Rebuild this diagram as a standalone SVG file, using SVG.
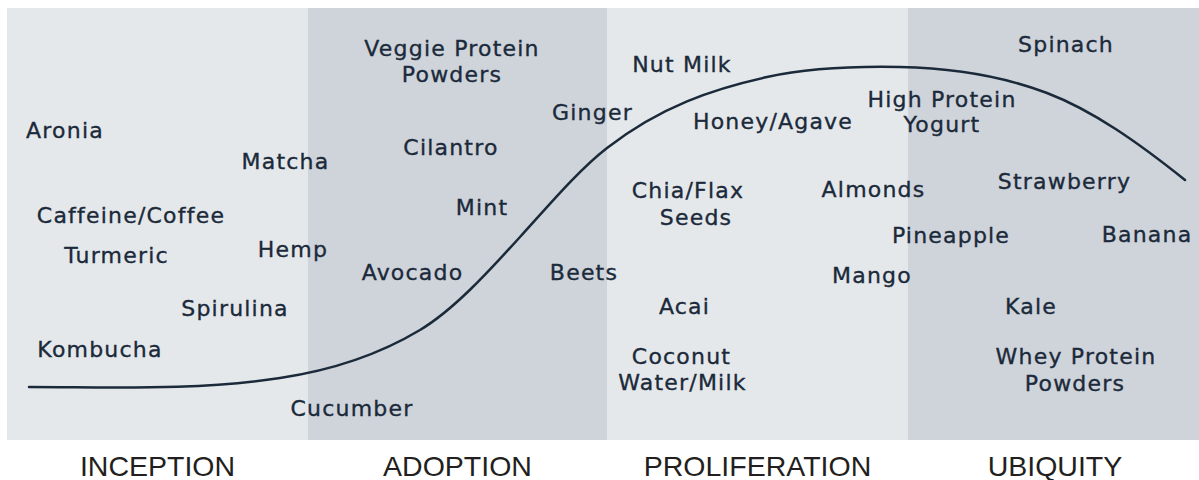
<svg xmlns="http://www.w3.org/2000/svg" width="1199" height="480" viewBox="0 0 1199 480">
<style>
.light{fill:#e5e8eb}
.dark{fill:#cfd3da}
.lbl{font-family:"DejaVu Sans","Liberation Sans",sans-serif;font-size:22px;letter-spacing:1.2px;fill:#1b2a3a;stroke:#1b2a3a;stroke-width:0.35;text-anchor:middle}
.stage{font-family:"Liberation Sans",Arial,sans-serif;font-size:28.5px;fill:#231f20;text-anchor:middle}
.curve{fill:none;stroke:#1b2a3a;stroke-width:2.5;stroke-linecap:round}
</style>
<g id="bands">
<rect class="light" x="7" y="8" width="301" height="432"/>
<rect class="dark" x="308" y="8" width="299" height="432"/>
<rect class="light" x="607" y="8" width="301" height="432"/>
<rect class="dark" x="908" y="8" width="291" height="432"/>
</g>
<g id="connectors">
<path class="curve" d="M29,387 C112.7,387 196.3,390.6 280,378 C326.7,371 373.3,358 420,330 C453.3,310 486.7,273.7 520,237 C549,205.1 578,170.6 607,148 C660.3,106.4 713.7,88.7 767,77 C811.3,67.3 855.7,66.1 900,67 C949,68 998,74.4 1047,93 C1093,110.5 1139,143.2 1185,180"/>
</g>
<g id="inception">
<g id="n-aronia"><text class="lbl" x="65" y="138">Aronia</text></g>
<g id="n-matcha"><text class="lbl" x="285.5" y="169">Matcha</text></g>
<g id="n-caffeine"><text class="lbl" x="131" y="223">Caffeine/Coffee</text></g>
<g id="n-turmeric"><text class="lbl" x="116.5" y="263">Turmeric</text></g>
<g id="n-hemp"><text class="lbl" x="293" y="257">Hemp</text></g>
<g id="n-spirulina"><text class="lbl" x="235" y="316">Spirulina</text></g>
<g id="n-kombucha"><text class="lbl" x="100" y="357">Kombucha</text></g>
</g>
<g id="adoption">
<g id="n-veggie"><text class="lbl" x="452" y="56">Veggie Protein</text><text class="lbl" x="452" y="82">Powders</text></g>
<g id="n-cilantro"><text class="lbl" x="451" y="155">Cilantro</text></g>
<g id="n-mint"><text class="lbl" x="482" y="215">Mint</text></g>
<g id="n-avocado"><text class="lbl" x="412.5" y="280">Avocado</text></g>
<g id="n-cucumber"><text class="lbl" x="352" y="416">Cucumber</text></g>
<g id="n-ginger"><text class="lbl" x="592.5" y="120">Ginger</text></g>
<g id="n-beets"><text class="lbl" x="584" y="280">Beets</text></g>
</g>
<g id="proliferation">
<g id="n-nutmilk"><text class="lbl" x="682" y="72">Nut Milk</text></g>
<g id="n-honey"><text class="lbl" x="773" y="129">Honey/Agave</text></g>
<g id="n-chia"><text class="lbl" x="688" y="198">Chia/Flax</text><text class="lbl" x="696" y="225">Seeds</text></g>
<g id="n-almonds"><text class="lbl" x="873.5" y="197">Almonds</text></g>
<g id="n-mango"><text class="lbl" x="872" y="283">Mango</text></g>
<g id="n-acai"><text class="lbl" x="684.5" y="314">Acai</text></g>
<g id="n-coconut"><text class="lbl" x="681.5" y="364">Coconut</text><text class="lbl" x="682.5" y="390">Water/Milk</text></g>
</g>
<g id="ubiquity">
<g id="n-highprotein"><text class="lbl" x="942" y="107">High Protein</text><text class="lbl" x="942" y="132">Yogurt</text></g>
<g id="n-spinach"><text class="lbl" x="1066" y="52">Spinach</text></g>
<g id="n-strawberry"><text class="lbl" x="1064.5" y="189">Strawberry</text></g>
<g id="n-pineapple"><text class="lbl" x="951" y="243">Pineapple</text></g>
<g id="n-banana"><text class="lbl" x="1147" y="242">Banana</text></g>
<g id="n-kale"><text class="lbl" x="1031" y="314">Kale</text></g>
<g id="n-whey"><text class="lbl" x="1076" y="364">Whey Protein</text><text class="lbl" x="1075" y="391">Powders</text></g>
</g>
<g id="stages">
<text class="stage" x="157.5" y="475.5">INCEPTION</text>
<text class="stage" x="457.5" y="475.5">ADOPTION</text>
<text class="stage" x="757.5" y="475.5">PROLIFERATION</text>
<text class="stage" x="1055" y="475.5">UBIQUITY</text>
</g>
</svg>
